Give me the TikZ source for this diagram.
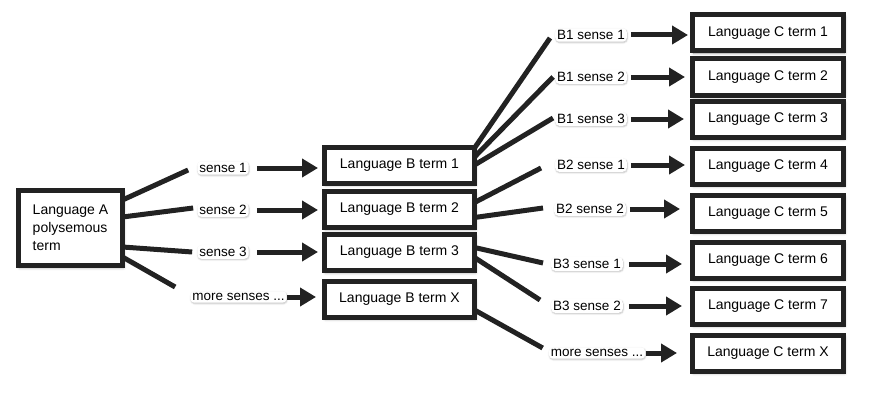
\documentclass[tikz,border=0pt]{standalone}
\usepackage{fontspec}
\setmainfont{Liberation Sans}
\usetikzlibrary{arrows.meta,calc,shadows.blur}
\definecolor{ink}{HTML}{222222}
\begin{document}
\begin{tikzpicture}[x=1pt,y=-1pt,
  shade/.style={blur shadow={shadow blur steps=6,shadow xshift=1pt,shadow yshift=-2pt,shadow blur radius=3pt,shadow opacity=40}},
  box/.style={draw=ink,line width=5pt,fill=white,minimum width=151pt,minimum height=36pt,inner sep=0pt,font=\fontsize{14}{18}\selectfont,shade},
  lab/.style={fill=white,rounded corners=4pt,inner sep=2pt,font=\fontsize{13.5}{15}\selectfont,
    blur shadow={shadow blur steps=4,shadow xshift=0.5pt,shadow yshift=-1pt,shadow blur radius=1.5pt,shadow opacity=25}},
  link/.style={draw=ink,line width=5pt},
  arr/.style={draw=ink,line width=5pt,-{Triangle[length=16pt,width=18pt]}}]
\useasboundingbox (0,0) rectangle (883,404);

% first column
\node[box,minimum width=104pt,minimum height=75pt,align=left] (A) at (70.5,228) {Language A\\polysemous\\term};

% second column: sense labels
\node[lab] (s1) at (223,168) {sense 1};
\node[lab] (s2) at (223,210) {sense 2};
\node[lab] (s3) at (223,252) {sense 3};
\node[lab] (sm) at (238.5,297) {more senses ...};

% B boxes
\node[box,minimum width=150pt] (B1) at (399.5,165) {Language B term 1};
\node[box,minimum width=150pt] (B2) at (399.5,209.5) {Language B term 2};
\node[box,minimum width=150pt] (B3) at (399.5,252.5) {Language B term 3};
\node[box,minimum width=150pt] (BX) at (399.5,299) {Language B term X};

% B sense labels
\node[lab] (b1s1) at (591,35) {B1 sense 1};
\node[lab] (b1s2) at (591,77) {B1 sense 2};
\node[lab] (b1s3) at (591,119) {B1 sense 3};
\node[lab] (b2s1) at (591,165) {B2 sense 1};
\node[lab] (b2s2) at (590,209) {B2 sense 2};
\node[lab] (b3s1) at (587,264) {B3 sense 1};
\node[lab] (b3s2) at (587,306) {B3 sense 2};
\node[lab] (bsm) at (597,353) {more senses ...};

% C boxes
\node[box] (C1) at (768,33) {Language C term 1};
\node[box] (C2) at (768,77) {Language C term 2};
\node[box] (C3) at (768,119) {Language C term 3};
\node[box] (C4) at (768,166) {Language C term 4};
\node[box] (C5) at (768,213) {Language C term 5};
\node[box] (C6) at (768,260) {Language C term 6};
\node[box] (C7) at (768,306) {Language C term 7};
\node[box] (CX) at (768,353) {Language C term X};

% A to senses
\draw[link] ($(A.east)+(-2.5,-28)$) -- ($(s1.west)+(-9,2)$);
\draw[link] ($(A.east)+(-2.5,-11)$) -- ($(s2.west)+(-4,-2)$);
\draw[link] ($(A.east)+(-2.5,19)$) -- ($(s3.west)+(-5,0)$);
\draw[link] ($(A.east)+(-2.5,29)$) -- ($(sm.west)+(-15,-10)$);
% B to B senses
\draw[link] ($(B1.east)+(-2.5,-17)$) -- ($(b1s1.west)+(-5,3)$);
\draw[link] ($(B1.east)+(-2.5,-8)$) -- ($(b1s2.west)+(-2,0)$);
\draw[link] ($(B1.east)+(-2.5,0)$) -- ($(b1s3.west)+(-2,-1)$);
\draw[link] ($(B2.east)+(-2.5,-7)$) -- ($(b2s1.west)+(-14,3)$);
\draw[link] ($(B2.east)+(-2.5,8)$) -- ($(b2s2.west)+(-11,-1)$);
\draw[link] ($(B3.east)+(-2.5,-5)$) -- ($(b3s1.west)+(-8,-1)$);
\draw[link] ($(B3.east)+(-2.5,5)$) -- ($(b3s2.west)+(-11,-6)$);
\draw[link] ($(BX.east)+(-2.5,11)$) -- ($(bsm.west)+(-6,-5)$);

% arrows senses -> B
\draw[arr,shorten <=8pt,shorten >=4pt] (s1.east) -- (s1.east -| B1.west);
\draw[arr,shorten <=8pt,shorten >=4pt] (s2.east) -- (s2.east -| B2.west);
\draw[arr,shorten <=8pt,shorten >=4pt] (s3.east) -- (s3.east -| B3.west);
\draw[arr,shorten <=0pt,shorten >=6pt] (sm.east) -- (sm.east -| BX.west);
% arrows B senses -> C
\draw[arr,shorten <=4pt,shorten >=2pt] (b1s1.east) -- (b1s1.east -| C1.west);
\draw[arr,shorten <=4pt,shorten >=5pt] (b1s2.east) -- (b1s2.east -| C2.west);
\draw[arr,shorten <=4pt,shorten >=6pt] (b1s3.east) -- (b1s3.east -| C3.west);
\draw[arr,shorten <=4pt,shorten >=5pt] (b2s1.east) -- (b2s1.east -| C4.west);
\draw[arr,shorten <=4pt,shorten >=10pt] (b2s2.east) -- (b2s2.east -| C5.west);
\draw[arr,shorten <=6pt,shorten >=8pt] (b3s1.east) -- (b3s1.east -| C6.west);
\draw[arr,shorten <=6pt,shorten >=8pt] (b3s2.east) -- (b3s2.east -| C7.west);
\draw[arr,shorten <=1pt,shorten >=13pt] (bsm.east) -- (bsm.east -| CX.west);
\end{tikzpicture}
\end{document}
